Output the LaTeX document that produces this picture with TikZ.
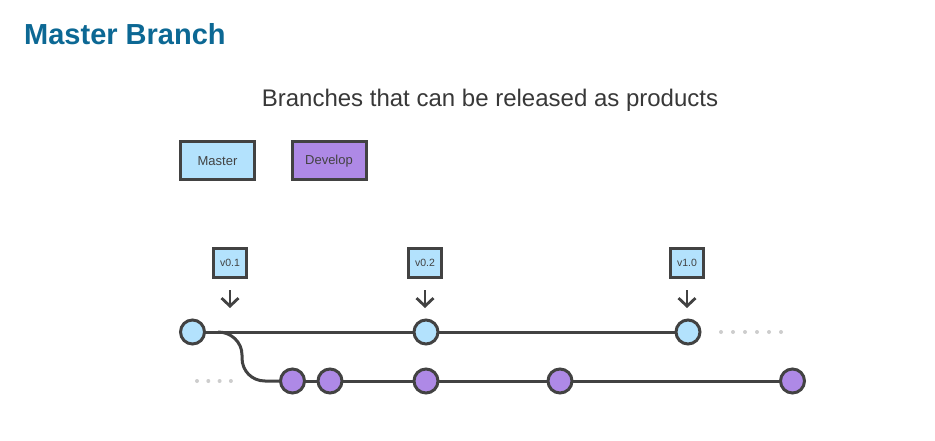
\documentclass[tikz,border=0pt]{standalone}
\usepackage{fontspec}
\setmainfont{Liberation Sans}
\usetikzlibrary{arrows.meta}
\definecolor{titleblue}{RGB}{12,104,148}
\definecolor{mblue}{RGB}{179,226,253}
\definecolor{dpurple}{RGB}{174,137,230}
\definecolor{dark}{RGB}{66,66,66}
\definecolor{dotgray}{RGB}{205,205,205}
\tikzset{
  legendbox/.style={draw=dark, line width=3pt, minimum width=74pt, minimum height=38pt, inner sep=0pt, text=dark, font=\fontsize{13}{14}\selectfont},
  tagbox/.style={draw=dark, fill=mblue, line width=3pt, minimum width=33pt, minimum height=29pt, inner sep=0pt, text=dark, font=\fontsize{10.5}{12}\selectfont},
  mcommit/.style={circle, draw=dark, fill=mblue, line width=3pt, minimum size=24pt, inner sep=0pt},
  dcommit/.style={circle, draw=dark, fill=dpurple, line width=3pt, minimum size=24pt, inner sep=0pt},
  branchline/.style={draw=dark, line width=3pt},
  tagarrow/.style={draw=dark, line width=2.8pt, -{Straight Barb[length=8pt,width=17pt,line width=2.8pt]}},
  gapdot/.style={fill=dotgray},
}
\begin{document}
\begin{tikzpicture}[x=1pt,y=-1pt]
\useasboundingbox[fill=white] (0,0) rectangle (935,441);
% titles
\node[anchor=base west, inner sep=0pt, text=titleblue, font=\fontsize{29}{32}\selectfont\bfseries] (title) at (24,45) {Master Branch};
\node[anchor=base, inner sep=0pt, text=black!78, font=\fontsize{24}{28}\selectfont] (subtitle) at (490,107) {Branches that can be released as products};
% legend
\node[legendbox, fill=mblue] (lm) at (217.5,161) {Master};
\node[legendbox, fill=dpurple] (ld) at (329,161) {Develop};
% lines (drawn first, nodes on top)
\coordinate (m1) at (192.5,332);
\coordinate (m2) at (426,332);
\coordinate (m3) at (688,332);
\coordinate (e1) at (292.5,381);
\coordinate (e5) at (792.5,381);
\draw[branchline] (m1) -- (m3);
\draw[branchline] (e1) -- (e5);
\draw[branchline] (218,332) .. controls (231,332) and (242,342) .. (242,355)
   -- (242,358) .. controls (242,371) and (252,381) .. (265,381) -- (e1);
% commits
\node[mcommit] (c1) at (m1) {};
\node[mcommit] (c2) at (m2) {};
\node[mcommit] (c3) at (m3) {};
\node[dcommit] (d1) at (e1) {};
\node[dcommit] (d2) at (330,381) {};
\node[dcommit] (d3) at (426,381) {};
\node[dcommit] (d4) at (560,381) {};
\node[dcommit] (d5) at (e5) {};
% tags
\node[tagbox] (t1) at (230,263) {v0.1};
\node[tagbox] (t2) at (425,263) {v0.2};
\node[tagbox] (t3) at (687,263) {v1.0};
% tag arrows
\foreach \t in {t1,t2,t3}
  \draw[tagarrow] ([yshift=-11pt]\t.south) -- ([yshift=-29pt]\t.south);
% continuation dots
\foreach \i in {0,...,5}
  \fill[gapdot] (721+12*\i,332) circle (2pt);
\foreach \i in {0,...,3}
  \fill[gapdot] (197+11.3*\i,381) circle (2pt);
\end{tikzpicture}
\end{document}
